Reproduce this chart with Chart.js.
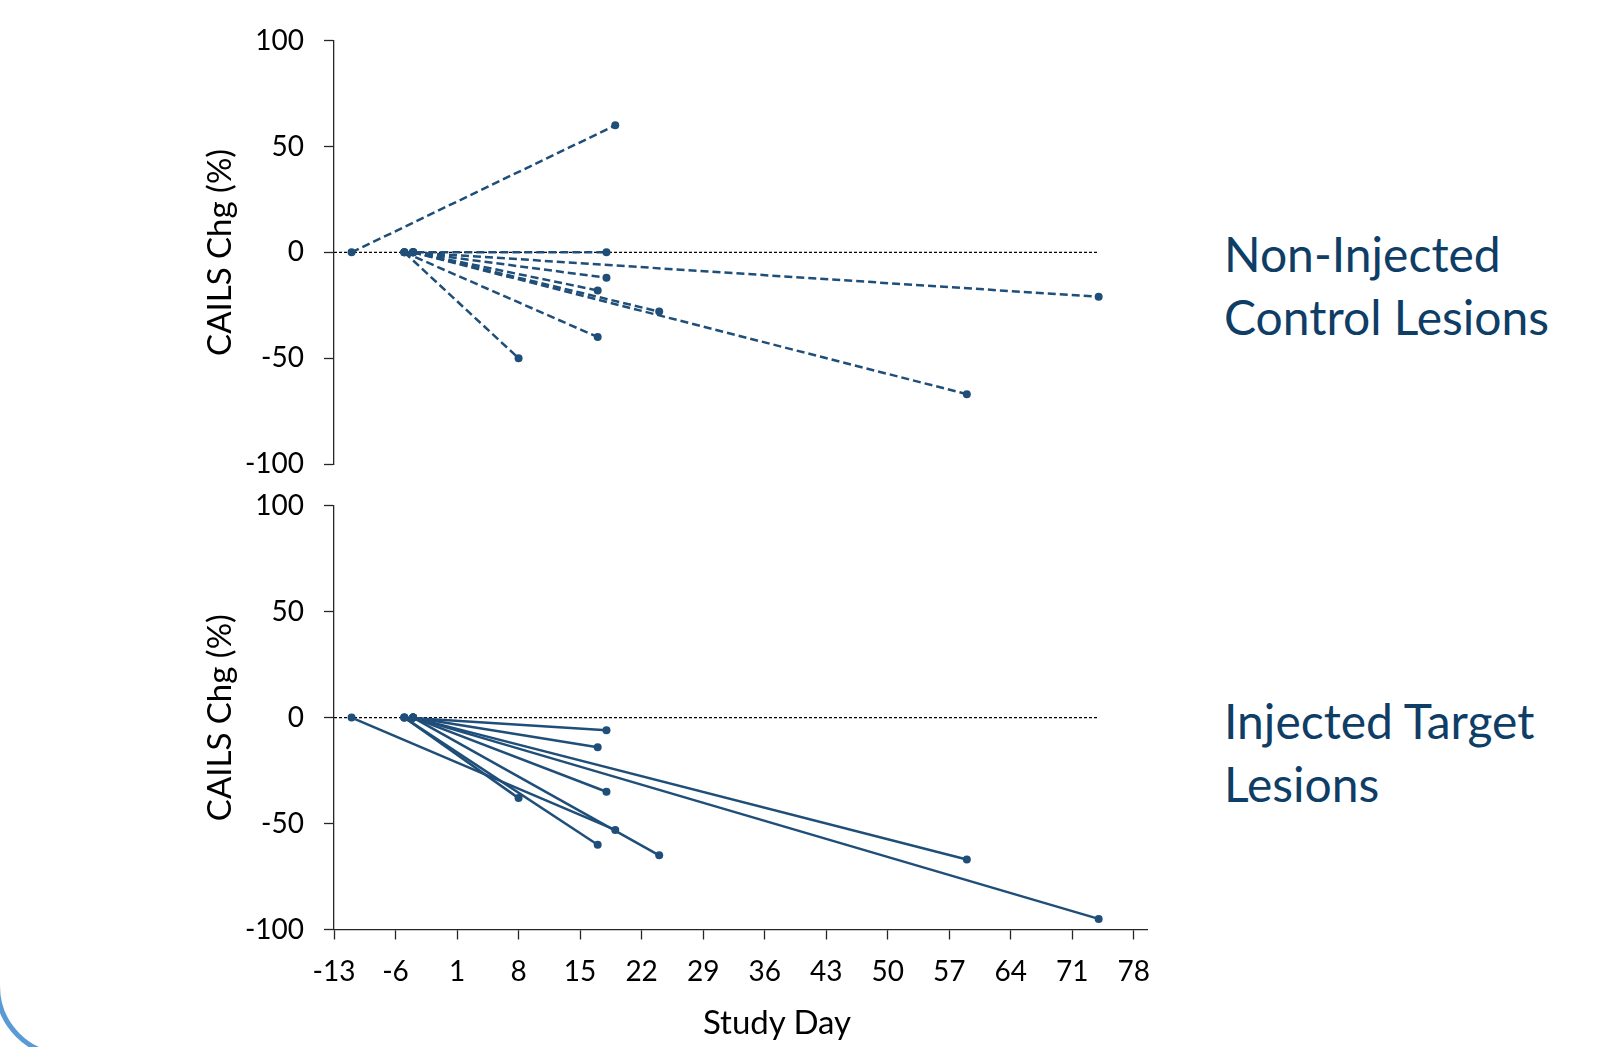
<!DOCTYPE html>
<html>
<head>
<meta charset="utf-8">
<script src="https://cdn.jsdelivr.net/npm/chart.js@4.4.1/dist/chart.umd.min.js"></script>
<style>
  html, body { margin: 0; padding: 0; background: #fff; }
  body { width: 1614px; height: 1047px; overflow: hidden; position: relative; font-family: Lato, sans-serif; }
  canvas { position: absolute; left: 0; }
  #ctrlChart { top: 0; }
  #targetChart { top: 480px; }
  .panel-label { position: absolute; left: 1224px; font-size: 48px; line-height: 63px; color: #0e3d66; white-space: nowrap; }
  #xTitle { position: absolute; left: 677px; width: 200px; top: 1005px; text-align: center; font-size: 33px; line-height: 33px; color: #000; }
  /* corner of the slide frame, bottom left */
  #frame { position: absolute; left: -5px; top: -200px; width: 2000px; height: 1258px; box-sizing: border-box; border: 5px solid #5b9bd5; border-radius: 72px; }
</style>
</head>
<body>
<div id="frame"></div>
<canvas id="ctrlChart" width="1200" height="490"></canvas>
<canvas id="targetChart" width="1200" height="567"></canvas>
<div class="panel-label" style="top:222px">Non-Injected<br>Control Lesions</div>
<div class="panel-label" style="top:689px">Injected Target<br>Lesions</div>
<div id="xTitle">Study Day</div>
<script>
// axis ticks
const dayTicks = [-13, -6, 1, 8, 15, 22, 29, 36, 43, 50, 57, 64, 71, 78];
const chgTicks = [-100, -50, 0, 50, 100];

// one entry per patient: baseline day, follow-up day, % change of each lesion type
const startDay = [-11, -5, -4, -4, -4, -5, -5, -4, -4];
const endDay = [19, 18, 18, 17, 24, 17, 8, 74, 59];
const controlChg = [60, 0, -12, -18, -28, -40, -50, -21, -67];
const targetChg = [-53, -6, -35, -14, -65, -60, -38, -95, -67];

// dotted reference line at 0
const zeroDays = [-13, 74];

const navy = '#1f4e79';
const axisColor = '#262626';

function lesionSets(values, dashed) {
  const sets = values.map((v, i) => ({
    data: [{ x: startDay[i], y: 0 }, { x: endDay[i], y: v }],
    showLine: true,
    borderColor: navy,
    backgroundColor: navy,
    borderWidth: 2.5,
    borderDash: dashed ? [8, 4] : [],
    pointRadius: 4,
    pointBorderWidth: 0,
    pointHoverRadius: 4
  }));
  // pushed last so it is drawn underneath
  sets.push({
    data: zeroDays.map(d => ({ x: d, y: 0 })),
    showLine: true,
    borderColor: '#000',
    borderWidth: 1.2,
    borderDash: [3, 2],
    pointRadius: 0
  });
  return sets;
}

function yAxis() {
  return {
    type: 'linear',
    min: -100,
    max: 100,
    afterBuildTicks: s => { s.ticks = chgTicks.map(v => ({ value: v })); },
    // fixed width, and don't let the label padding push the plot area in
    afterFit: s => { s.width = 334; s.paddingTop = 0; s.paddingBottom = 0; },
    grid: { drawOnChartArea: false, drawTicks: true, tickLength: 10, tickColor: axisColor, tickWidth: 1.3 },
    border: { display: true, color: axisColor, width: 1.3 },
    ticks: { padding: 20, color: '#000', font: { family: 'Lato', size: 28 } },
    title: {
      display: true, text: 'CAILS Chg (%)', color: '#000',
      font: { family: 'Lato', size: 33 }, padding: { top: 201, bottom: 0 }
    }
  };
}

const common = {
  animation: false,
  responsive: false,
  devicePixelRatio: 1,
  plugins: { legend: { display: false }, tooltip: { enabled: false } },
  events: []
};

// top panel: non-injected lesions, dashed
new Chart(document.getElementById('ctrlChart'), {
  type: 'scatter',
  data: { datasets: lesionSets(controlChg, true) },
  options: Object.assign({}, common, {
    layout: { padding: { top: 40.7, right: 53, bottom: 26, left: 0 } },
    scales: {
      x: { type: 'linear', min: -13, max: 79.5, display: false },
      y: yAxis()
    }
  })
});

// bottom panel: injected lesions, solid
new Chart(document.getElementById('targetChart'), {
  type: 'scatter',
  data: { datasets: lesionSets(targetChg, false) },
  options: Object.assign({}, common, {
    layout: { padding: { top: 25.7, right: 53, bottom: 0, left: 0 } },
    scales: {
      x: {
        type: 'linear',
        min: -13,
        max: 79.5,
        afterBuildTicks: s => { s.ticks = dayTicks.map(v => ({ value: v })); },
        afterFit: s => { s.height = 117.5; },
        grid: { drawOnChartArea: false, drawTicks: true, tickLength: 10, tickColor: axisColor, tickWidth: 1.3 },
        border: { display: true, color: axisColor, width: 1.3 },
        ticks: { padding: 16, color: '#000', autoSkip: false, maxRotation: 0, font: { family: 'Lato', size: 28 } }
      },
      y: yAxis()
    }
  })
});
</script>
</body>
</html>
